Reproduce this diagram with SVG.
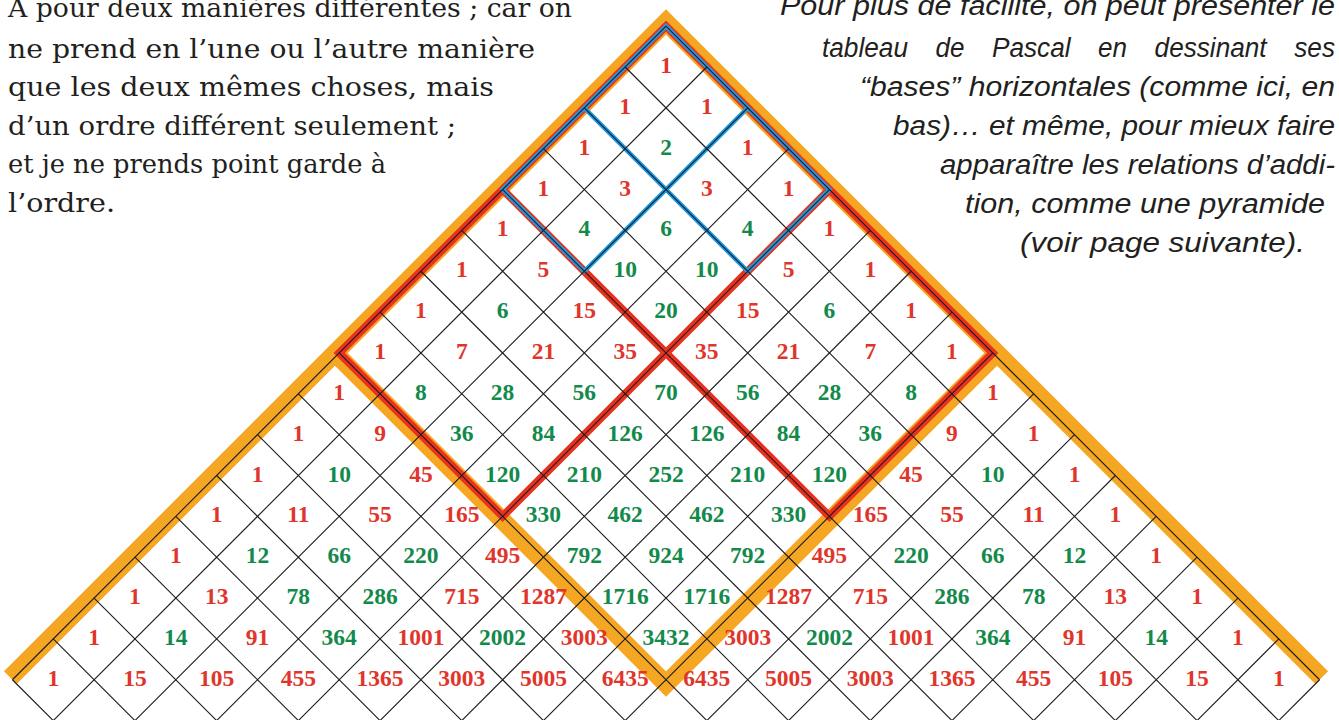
<svg xmlns="http://www.w3.org/2000/svg" width="1339" height="720" viewBox="0 0 1339 720">
<style>
.bg{fill:#ffffff}
.num{font-family:"Liberation Serif","Times New Roman",serif;font-weight:bold;font-size:23.5px;text-anchor:middle}
.r{fill:#e0352b}
.g{fill:#138a4b}
.grid{fill:none;stroke:#1c1c1c;stroke-width:1.1}
.orange{fill:none;stroke:#f5a623;stroke-width:18;stroke-linejoin:miter;stroke-miterlimit:10}
.red{fill:none;stroke:#e8321f;stroke-width:8;stroke-linejoin:miter;stroke-miterlimit:10}
.blue{fill:none;stroke:#1f9be2;stroke-width:4.5;stroke-linejoin:miter;stroke-miterlimit:10}
.left{font-family:"DejaVu Serif","Liberation Serif",serif;font-size:25.5px;fill:#231f20}
.right{font-family:"Liberation Sans","Open Sans",sans-serif;font-style:italic;font-size:27px;fill:#231f20}
</style>
<rect class="bg" x="0" y="0" width="1339" height="720"/>

<g id="text-left">
<text class="left" x="8" y="17" textLength="564" lengthAdjust="spacingAndGlyphs">A pour deux manières différentes ; car on</text>
<text class="left" x="8" y="57.9" textLength="527" lengthAdjust="spacingAndGlyphs">ne prend en l’une ou l’autre manière</text>
<text class="left" x="8" y="96.3" textLength="486" lengthAdjust="spacingAndGlyphs">que les deux mêmes choses, mais</text>
<text class="left" x="8" y="134.7" textLength="448" lengthAdjust="spacingAndGlyphs">d’un ordre différent seulement ;</text>
<text class="left" x="8" y="173.1" textLength="378" lengthAdjust="spacingAndGlyphs">et je ne prends point garde à</text>
<text class="left" x="8" y="211.5" textLength="107" lengthAdjust="spacingAndGlyphs">l’ordre.</text>
</g>

<g id="text-right">
<text class="right" x="780" y="15" textLength="555" lengthAdjust="spacingAndGlyphs">Pour plus de facilité, on peut présenter le</text>
<text class="right" x="822" y="56.5" textLength="86" lengthAdjust="spacingAndGlyphs">tableau</text>
<text class="right" x="935.5" y="56.5" textLength="29" lengthAdjust="spacingAndGlyphs">de</text>
<text class="right" x="992" y="56.5" textLength="78.6" lengthAdjust="spacingAndGlyphs">Pascal</text>
<text class="right" x="1098.1" y="56.5" textLength="29" lengthAdjust="spacingAndGlyphs">en</text>
<text class="right" x="1154.6" y="56.5" textLength="112" lengthAdjust="spacingAndGlyphs">dessinant</text>
<text class="right" x="1294.3" y="56.5" textLength="40.7" lengthAdjust="spacingAndGlyphs">ses</text>
<text class="right" x="860" y="95.5" textLength="475" lengthAdjust="spacingAndGlyphs">“bases” horizontales (comme ici, en</text>
<text class="right" x="893" y="134.5" textLength="442" lengthAdjust="spacingAndGlyphs">bas)… et même, pour mieux faire</text>
<text class="right" x="940" y="173.5" textLength="395" lengthAdjust="spacingAndGlyphs">apparaître les relations d’addi-</text>
<text class="right" x="965" y="212.5" textLength="360" lengthAdjust="spacingAndGlyphs">tion, comme une pyramide</text>
<text class="right" x="1020" y="251.5" textLength="285" lengthAdjust="spacingAndGlyphs">(voir page suivante).</text>
</g>

<g id="connectors">
<g id="highlights">
<path id="orange-outer" class="orange" d="M10.28,677.63 L666,21.91 L1321.72,677.63"/>
<path id="orange-v" class="orange" d="M334.28,352.27 L666,683.99 L997.72,352.27"/>
<path id="red-outline" class="red" d="M502.6,189.55 L829.4,516.35 L992.8,352.95 L666,26.15 L339.2,352.95 L502.6,516.35 L829.4,189.55"/>
<path id="blue-outline" class="blue" d="M584.3,107.85 L747.7,271.25 L829.4,189.55 L666,26.15 L502.6,189.55 L584.3,271.25 L747.7,107.85"/>
</g>
<path id="grid" class="grid" d="M666,26.15 L1319.6,679.75 M625.15,67 L1278.75,720.6 M584.3,107.85 L1197.05,720.6 M543.45,148.7 L1115.35,720.6 M502.6,189.55 L1033.65,720.6 M461.75,230.4 L951.95,720.6 M420.9,271.25 L870.25,720.6 M380.05,312.1 L788.55,720.6 M339.2,352.95 L706.85,720.6 M298.35,393.8 L625.15,720.6 M257.5,434.65 L543.45,720.6 M216.65,475.5 L461.75,720.6 M175.8,516.35 L380.05,720.6 M134.95,557.2 L298.35,720.6 M94.1,598.05 L216.65,720.6 M53.25,638.9 L134.95,720.6 M12.4,679.75 L53.25,720.6 M666,26.15 L12.4,679.75 M706.85,67 L53.25,720.6 M747.7,107.85 L134.95,720.6 M788.55,148.7 L216.65,720.6 M829.4,189.55 L298.35,720.6 M870.25,230.4 L380.05,720.6 M911.1,271.25 L461.75,720.6 M951.95,312.1 L543.45,720.6 M992.8,352.95 L625.15,720.6 M1033.65,393.8 L706.85,720.6 M1074.5,434.65 L788.55,720.6 M1115.35,475.5 L870.25,720.6 M1156.2,516.35 L951.95,720.6 M1197.05,557.2 L1033.65,720.6 M1237.9,598.05 L1115.35,720.6 M1278.75,638.9 L1197.05,720.6 M1319.6,679.75 L1278.75,720.6"/>
</g>

<g id="row-0"><text class="num r" x="666" y="73">1</text></g>
<g id="row-1"><text class="num r" x="625.15" y="113.85">1</text><text class="num r" x="706.85" y="113.85">1</text></g>
<g id="row-2"><text class="num r" x="584.3" y="154.7">1</text><text class="num g" x="666" y="154.7">2</text><text class="num r" x="747.7" y="154.7">1</text></g>
<g id="row-3"><text class="num r" x="543.45" y="195.55">1</text><text class="num r" x="625.15" y="195.55">3</text><text class="num r" x="706.85" y="195.55">3</text><text class="num r" x="788.55" y="195.55">1</text></g>
<g id="row-4"><text class="num r" x="502.6" y="236.4">1</text><text class="num g" x="584.3" y="236.4">4</text><text class="num g" x="666" y="236.4">6</text><text class="num g" x="747.7" y="236.4">4</text><text class="num r" x="829.4" y="236.4">1</text></g>
<g id="row-5"><text class="num r" x="461.75" y="277.25">1</text><text class="num r" x="543.45" y="277.25">5</text><text class="num g" x="625.15" y="277.25">10</text><text class="num g" x="706.85" y="277.25">10</text><text class="num r" x="788.55" y="277.25">5</text><text class="num r" x="870.25" y="277.25">1</text></g>
<g id="row-6"><text class="num r" x="420.9" y="318.1">1</text><text class="num g" x="502.6" y="318.1">6</text><text class="num r" x="584.3" y="318.1">15</text><text class="num g" x="666" y="318.1">20</text><text class="num r" x="747.7" y="318.1">15</text><text class="num g" x="829.4" y="318.1">6</text><text class="num r" x="911.1" y="318.1">1</text></g>
<g id="row-7"><text class="num r" x="380.05" y="358.95">1</text><text class="num r" x="461.75" y="358.95">7</text><text class="num r" x="543.45" y="358.95">21</text><text class="num r" x="625.15" y="358.95">35</text><text class="num r" x="706.85" y="358.95">35</text><text class="num r" x="788.55" y="358.95">21</text><text class="num r" x="870.25" y="358.95">7</text><text class="num r" x="951.95" y="358.95">1</text></g>
<g id="row-8"><text class="num r" x="339.2" y="399.8">1</text><text class="num g" x="420.9" y="399.8">8</text><text class="num g" x="502.6" y="399.8">28</text><text class="num g" x="584.3" y="399.8">56</text><text class="num g" x="666" y="399.8">70</text><text class="num g" x="747.7" y="399.8">56</text><text class="num g" x="829.4" y="399.8">28</text><text class="num g" x="911.1" y="399.8">8</text><text class="num r" x="992.8" y="399.8">1</text></g>
<g id="row-9"><text class="num r" x="298.35" y="440.65">1</text><text class="num r" x="380.05" y="440.65">9</text><text class="num g" x="461.75" y="440.65">36</text><text class="num g" x="543.45" y="440.65">84</text><text class="num g" x="625.15" y="440.65">126</text><text class="num g" x="706.85" y="440.65">126</text><text class="num g" x="788.55" y="440.65">84</text><text class="num g" x="870.25" y="440.65">36</text><text class="num r" x="951.95" y="440.65">9</text><text class="num r" x="1033.65" y="440.65">1</text></g>
<g id="row-10"><text class="num r" x="257.5" y="481.5">1</text><text class="num g" x="339.2" y="481.5">10</text><text class="num r" x="420.9" y="481.5">45</text><text class="num g" x="502.6" y="481.5">120</text><text class="num g" x="584.3" y="481.5">210</text><text class="num g" x="666" y="481.5">252</text><text class="num g" x="747.7" y="481.5">210</text><text class="num g" x="829.4" y="481.5">120</text><text class="num r" x="911.1" y="481.5">45</text><text class="num g" x="992.8" y="481.5">10</text><text class="num r" x="1074.5" y="481.5">1</text></g>
<g id="row-11"><text class="num r" x="216.65" y="522.35">1</text><text class="num r" x="298.35" y="522.35">11</text><text class="num r" x="380.05" y="522.35">55</text><text class="num r" x="461.75" y="522.35">165</text><text class="num g" x="543.45" y="522.35">330</text><text class="num g" x="625.15" y="522.35">462</text><text class="num g" x="706.85" y="522.35">462</text><text class="num g" x="788.55" y="522.35">330</text><text class="num r" x="870.25" y="522.35">165</text><text class="num r" x="951.95" y="522.35">55</text><text class="num r" x="1033.65" y="522.35">11</text><text class="num r" x="1115.35" y="522.35">1</text></g>
<g id="row-12"><text class="num r" x="175.8" y="563.2">1</text><text class="num g" x="257.5" y="563.2">12</text><text class="num g" x="339.2" y="563.2">66</text><text class="num g" x="420.9" y="563.2">220</text><text class="num r" x="502.6" y="563.2">495</text><text class="num g" x="584.3" y="563.2">792</text><text class="num g" x="666" y="563.2">924</text><text class="num g" x="747.7" y="563.2">792</text><text class="num r" x="829.4" y="563.2">495</text><text class="num g" x="911.1" y="563.2">220</text><text class="num g" x="992.8" y="563.2">66</text><text class="num g" x="1074.5" y="563.2">12</text><text class="num r" x="1156.2" y="563.2">1</text></g>
<g id="row-13"><text class="num r" x="134.95" y="604.05">1</text><text class="num r" x="216.65" y="604.05">13</text><text class="num g" x="298.35" y="604.05">78</text><text class="num g" x="380.05" y="604.05">286</text><text class="num r" x="461.75" y="604.05">715</text><text class="num r" x="543.45" y="604.05">1287</text><text class="num g" x="625.15" y="604.05">1716</text><text class="num g" x="706.85" y="604.05">1716</text><text class="num r" x="788.55" y="604.05">1287</text><text class="num r" x="870.25" y="604.05">715</text><text class="num g" x="951.95" y="604.05">286</text><text class="num g" x="1033.65" y="604.05">78</text><text class="num r" x="1115.35" y="604.05">13</text><text class="num r" x="1197.05" y="604.05">1</text></g>
<g id="row-14"><text class="num r" x="94.1" y="644.9">1</text><text class="num g" x="175.8" y="644.9">14</text><text class="num r" x="257.5" y="644.9">91</text><text class="num g" x="339.2" y="644.9">364</text><text class="num r" x="420.9" y="644.9">1001</text><text class="num g" x="502.6" y="644.9">2002</text><text class="num r" x="584.3" y="644.9">3003</text><text class="num g" x="666" y="644.9">3432</text><text class="num r" x="747.7" y="644.9">3003</text><text class="num g" x="829.4" y="644.9">2002</text><text class="num r" x="911.1" y="644.9">1001</text><text class="num g" x="992.8" y="644.9">364</text><text class="num r" x="1074.5" y="644.9">91</text><text class="num g" x="1156.2" y="644.9">14</text><text class="num r" x="1237.9" y="644.9">1</text></g>
<g id="row-15"><text class="num r" x="53.25" y="685.75">1</text><text class="num r" x="134.95" y="685.75">15</text><text class="num r" x="216.65" y="685.75">105</text><text class="num r" x="298.35" y="685.75">455</text><text class="num r" x="380.05" y="685.75">1365</text><text class="num r" x="461.75" y="685.75">3003</text><text class="num r" x="543.45" y="685.75">5005</text><text class="num r" x="625.15" y="685.75">6435</text><text class="num r" x="706.85" y="685.75">6435</text><text class="num r" x="788.55" y="685.75">5005</text><text class="num r" x="870.25" y="685.75">3003</text><text class="num r" x="951.95" y="685.75">1365</text><text class="num r" x="1033.65" y="685.75">455</text><text class="num r" x="1115.35" y="685.75">105</text><text class="num r" x="1197.05" y="685.75">15</text><text class="num r" x="1278.75" y="685.75">1</text></g>
</svg>
